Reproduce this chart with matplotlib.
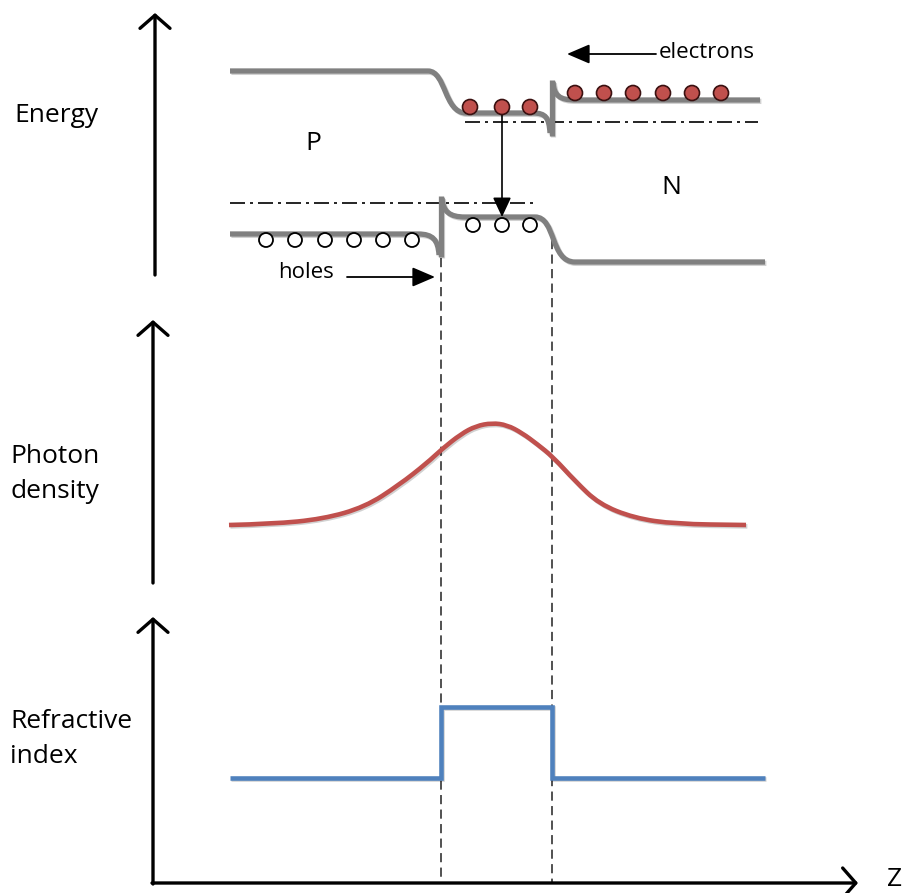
import matplotlib
matplotlib.use("Agg")
import matplotlib.pyplot as plt
import matplotlib.patheffects as pe
from matplotlib.path import Path
from matplotlib.patches import PathPatch, Circle

plt.rcParams["font.family"] = ["Open Sans", "DejaVu Sans"]

# --- layout along z (pixel units of the canvas) ---
z_start, z_end = 230, 762
z_if1, z_if2 = 441, 552          # heterointerfaces of the active layer

# --- band edges ---
cb_p, cb_well, cb_n = 71, 113, 100
vb_p, vb_well, vb_n = 234, 217, 262
efn_level = 122                  # electron quasi-Fermi level
efp_level = 203                  # hole quasi-Fermi level

# --- carriers ---
electrons_well_z = [470, 502, 530]
electrons_n_z = [575, 604, 633, 663, 692, 721]
holes_p_z = [266, 295, 325, 354, 383, 412]
holes_well_z = [473, 502, 530]

# --- optical mode ---
photon_z = [229, 272, 323, 365, 399, 427, 442, 461, 476, 492, 507, 522, 537, 553, 575, 599, 634, 675, 746]
photon_y = [525, 524, 519, 507, 485, 463, 449, 434, 426, 423, 425, 433, 444, 457, 481, 504, 518, 524, 525]

# --- refractive index profile ---
refr_z = [230, z_if1, z_if1, z_if2, z_if2, 765]
refr_y = [778, 778, 707, 707, 778, 778]

GRAY = "#808080"
RED = "#c0504d"
BLUE = "#4f81bd"
shadow = [pe.SimpleLineShadow(offset=(1.0, -1.0), alpha=0.18, shadow_color="k"), pe.Normal()]

fig = plt.figure(figsize=(9.10, 8.93), dpi=100)
ax = fig.add_axes([0, 0, 1, 1])
ax.set_xlim(0, 910)
ax.set_ylim(893, 0)
ax.axis("off")


def band(verts, codes):
    patch = PathPatch(Path(verts, codes), fill=False, edgecolor=GRAY, lw=3.8,
                      capstyle="butt", joinstyle="round", zorder=3)
    patch.set_path_effects(shadow)
    ax.add_patch(patch)


M, L, C = Path.MOVETO, Path.LINETO, Path.CURVE4

# conduction band
band([(z_start, cb_p), (428, cb_p), (446, cb_p), (444, cb_well), (466, cb_well),
      (533, cb_well), (546, cb_well), (549, 118), (550, 133)],
     [M, L, C, C, C, L, C, C, C])
band([(z_if2, 80), (z_if2, 136)], [M, L])
band([(z_if2 + 1, 82), (z_if2 + 2, 96), (560, cb_n), (575, cb_n), (760, cb_n)],
     [M, C, C, C, L])

# valence band
band([(z_start, vb_p), (418, vb_p), (433, vb_p), (438, 240), (439, 255)],
     [M, L, C, C, C])
band([(z_if1, 196), (z_if1, 257)], [M, L])
band([(z_if1 + 1, 198), (z_if1 + 2, 212), (450, vb_well), (465, vb_well), (535, vb_well),
      (556, vb_well), (550, vb_n), (575, vb_n), (765, vb_n)],
     [M, C, C, C, L, C, C, C, L])

# quasi-Fermi levels
ax.plot([465, 758], [efn_level, efn_level], color="k", lw=1.2, ls=(0, (9, 3, 1.8, 3)), zorder=2)
ax.plot([230, 537], [efp_level, efp_level], color="k", lw=1.2, ls=(0, (9, 3, 1.8, 3)), zorder=2)

# carriers
for z in electrons_well_z:
    ax.add_patch(Circle((z, 107), 7.5, facecolor=RED, edgecolor="#3a1010", lw=1.2, zorder=5))
for z in electrons_n_z:
    ax.add_patch(Circle((z, 93), 7.5, facecolor=RED, edgecolor="#3a1010", lw=1.2, zorder=5))
for z in holes_p_z:
    ax.add_patch(Circle((z, 240), 7, facecolor="white", edgecolor="k", lw=1.3, zorder=5))
for z in holes_well_z:
    ax.add_patch(Circle((z, 225), 7, facecolor="white", edgecolor="k", lw=1.3, zorder=5))

# radiative recombination
ax.annotate("", xy=(502, 217), xytext=(502, 108),
            arrowprops=dict(arrowstyle="-|>,head_length=0.6,head_width=0.28", lw=1.2,
                            color="k", mutation_scale=20, shrinkA=0, shrinkB=0), zorder=4)

# carrier injection arrows
inject = dict(arrowstyle="-|>,head_length=0.7,head_width=0.3", lw=1.3,
              color="k", mutation_scale=20, shrinkA=0, shrinkB=0)
ax.annotate("", xy=(567, 54), xytext=(656, 54), arrowprops=inject)
ax.annotate("", xy=(435, 277), xytext=(347, 277), arrowprops=inject)

# interface guides
ax.plot([z_if1, z_if1], [258, 883], color="#222222", lw=1.1, ls=(0, (6, 3.5)), zorder=1)
ax.plot([z_if2, z_if2], [240, 883], color="#222222", lw=1.1, ls=(0, (6, 3.5)), zorder=1)

# photon density
verts = [(photon_z[0], photon_y[0])]
codes = [Path.MOVETO]
for i in range(1, len(photon_z) - 1):
    mid = ((photon_z[i] + photon_z[i + 1]) / 2, (photon_y[i] + photon_y[i + 1]) / 2)
    verts += [(photon_z[i], photon_y[i]), mid]
    codes += [Path.CURVE3, Path.CURVE3]
verts.append((photon_z[-1], photon_y[-1]))
codes.append(Path.LINETO)
mode = PathPatch(Path(verts, codes), fill=False, edgecolor=RED, lw=3.3, capstyle="butt", zorder=3)
mode.set_path_effects(shadow)
ax.add_patch(mode)

# refractive index
ax.plot(refr_z, refr_y, color=BLUE, lw=3.3, solid_joinstyle="miter", solid_capstyle="butt",
        zorder=3, path_effects=shadow)

# axes arrows
axis_arrow = dict(arrowstyle="->,head_length=0.35,head_width=0.4", lw=2.4, color="k",
                  mutation_scale=27, shrinkA=0, shrinkB=0)
ax.annotate("", xy=(155, 13), xytext=(155, 275), arrowprops=axis_arrow)
ax.annotate("", xy=(153, 320), xytext=(153, 583), arrowprops=axis_arrow)
ax.annotate("", xy=(153, 617), xytext=(153, 884), arrowprops=axis_arrow)
ax.annotate("", xy=(858, 883), xytext=(152, 883), arrowprops=axis_arrow)

# labels
fs = 19
ax.text(14, 116, "Energy", fontsize=fs, va="center", ha="left")
ax.text(10, 474, "Photon\ndensity", fontsize=fs, va="center", ha="left", linespacing=1.5)
ax.text(10, 739, "Refractive\nindex", fontsize=fs, va="center", ha="left", linespacing=1.5)
ax.text(887, 892, "Z", fontsize=fs, va="bottom", ha="left")
ax.text(313, 143, "P", fontsize=fs, va="center", ha="center")
ax.text(671, 188, "N", fontsize=fs, va="center", ha="center")
ax.text(659, 52, "electrons", fontsize=16, va="center", ha="left")
ax.text(278, 273, "holes", fontsize=16, va="center", ha="left")

fig.savefig("out.png", dpi=100)
